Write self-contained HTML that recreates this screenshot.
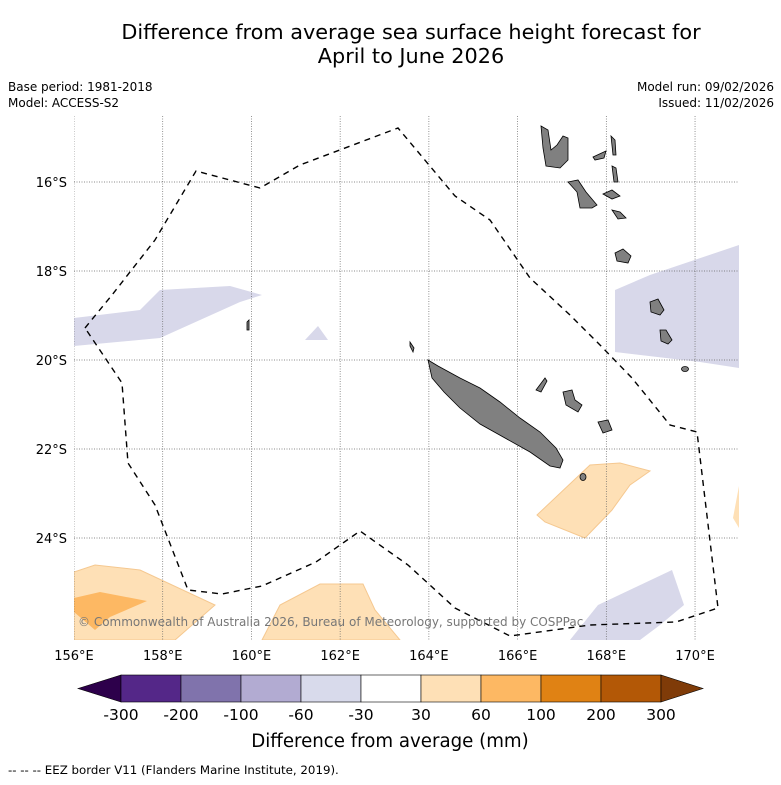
<!DOCTYPE html>
<html><head><meta charset="utf-8"><style>
body{margin:0;background:#fff;font-family:"DejaVu Sans","Liberation Sans",sans-serif;}
svg text{font-family:"DejaVu Sans","Liberation Sans",sans-serif;}
</style></head><body>
<svg id="chart" width="781" height="781" viewBox="0 0 781 781">
<text x="411" y="39" font-size="20.8" text-anchor="middle">Difference from average sea surface height forecast for</text>
<text x="411" y="63" font-size="20.8" text-anchor="middle">April to June 2026</text>
<text x="8" y="91" font-size="12">Base period: 1981-2018</text>
<text x="8" y="107" font-size="12">Model: ACCESS-S2</text>
<text x="774" y="91" font-size="12" text-anchor="end">Model run: 09/02/2026</text>
<text x="774" y="107" font-size="12" text-anchor="end">Issued: 11/02/2026</text>
<defs><clipPath id="mapclip"><rect x="74" y="116" width="665" height="524"/></clipPath></defs>
<g clip-path="url(#mapclip)">
<g fill="#d8d8ea">
<polygon points="74,318 140,310 160,290 230,286 262,295 240,302 160,338 74,346"/>
<polygon points="305,340 318,326 328,340"/>
<polygon points="615,290 650,275 739,245 739,368 700,362 615,352"/>
<polygon points="570,640 598,605 672,570 684,605 660,625 640,640"/>
</g>
<g>
<polygon fill="#fee0b6" stroke="#f5c890" stroke-width="1" points="537,515 590,465 620,463 650,471 630,485 612,510 585,538 545,522"/>
<polygon fill="#fee0b6" stroke="#f5c890" stroke-width="1" points="74,572 95,565 140,570 215,605 175,640 74,640"/>
<polygon fill="#fdb863" points="74,598 100,592 147,601 110,617 95,630 74,612"/>
<polygon fill="#fee0b6" stroke="#f5c890" stroke-width="1" points="262,640 280,605 320,584 363,584 375,610 400,640"/>
<polygon fill="#fee0b6" points="739,486 733,518 739,528"/>
</g>
<g id="grid" stroke="#666" stroke-width="0.7" stroke-dasharray="1,1.5"></g>
<g fill="#808080" stroke="#000" stroke-width="0.8">
<polygon points="428,360 438,366 460,378 480,388 500,402 520,418 540,432 556,448 563,460 560,468 550,466 530,452 505,438 480,424 460,408 444,392 432,378"/>
<polygon points="541,126 548,130 551,150 557,145 563,136 568,138 568,160 560,168 546,166 543,148"/>
<polygon points="568,182 578,180 586,192 597,205 592,208 580,208 577,192"/>
<polygon points="593,157 606,151 604,158 595,160"/>
<polygon points="611,136 615,140 616,155 613,155"/>
<polygon points="612,166 616,168 618,182 614,182"/>
<polygon points="603,194 612,190 620,196 612,199"/>
<polygon points="612,210 620,212 626,218 618,219"/>
<polygon points="615,253 623,249 631,256 628,263 617,261"/>
<polygon points="650,302 658,299 664,310 660,315 651,312"/>
<polygon points="660,330 666,330 672,340 668,344 661,341"/>
<ellipse cx="685" cy="369" rx="3.5" ry="2.5"/>
<polygon points="563,392 572,390 575,400 582,405 578,412 566,405"/>
<polygon points="598,422 608,420 612,430 603,433"/>
<polygon points="536,390 545,378 547,381 541,392"/>
<ellipse cx="583" cy="477" rx="3" ry="3.5"/>
<polygon points="247,322 249,320 249,330 247,330"/>
<polygon points="410,342 414,348 413,352 410,346"/>
</g>
<polyline fill="none" stroke="#000" stroke-width="1.4" stroke-dasharray="6,5" points="85,328 112,295 155,240 196,171 260,188 300,165 398,128 455,196 490,220 530,278 570,315 600,345 632,378 670,425 697,432 718,608 676,622 590,625 510,636 455,608 408,565 360,531 316,562 262,586 222,594 188,590 155,505 128,463 122,383 85,328"/>
<text x="78" y="626" font-size="12" fill="#777">© Commonwealth of Australia 2026, Bureau of Meteorology, supported by COSPPac</text>
</g>
<g id="axes"></g>
<g id="colorbar"></g>
<text x="390" y="747" font-size="18.2" text-anchor="middle">Difference from average (mm)</text>
<text x="8" y="774" font-size="11.8">-- -- -- EEZ border V11 (Flanders Marine Institute, 2019).</text>
</svg>
<script>
const lonTicks=[156,158,160,162,164,166,168,170];
const latTicks=[16,18,20,22,24];
const cbBounds=[-300,-200,-100,-60,-30,30,60,100,200,300];
const cbColors=['#542788','#8073ac','#b2abd2','#d8daeb','#ffffff','#fee0b6','#fdb863','#e08214','#b35806'];
const cbUnder='#2d004b', cbOver='#7f3b08';
const NS='http://www.w3.org/2000/svg';
const xLon=l=>74+(l-156)*44.36;
const yLat=l=>182+(l-16)*44.5;
function mk(tag,attrs,parent){const e=document.createElementNS(NS,tag);for(const k in attrs)e.setAttribute(k,attrs[k]);parent.appendChild(e);return e;}
const grid=document.getElementById('grid'),axes=document.getElementById('axes'),cb=document.getElementById('colorbar');
lonTicks.forEach(l=>{
 const x=xLon(l);
 const g=mk('line',{x1:x,x2:x,y1:116,y2:640},grid);
 
 
 const t=mk('text',{x:x,y:660,'font-size':13,'text-anchor':'middle'},axes);
 t.textContent=l+'°E';
 
 
});
latTicks.forEach(l=>{
 const y=yLat(l);
 const g=mk('line',{x1:74,x2:739,y1:y,y2:y},grid);
 
 
 const t=mk('text',{x:67,y:y+5,'font-size':13,'text-anchor':'end'},axes);
 t.textContent=l+'°S';
 
 
});
const cx=i=>121+i*60, cy0=675, cy1=702;
const u=mk('polygon',{points:`78,${(cy0+cy1)/2} ${cx(0)},${cy0} ${cx(0)},${cy1}`,fill:cbUnder,stroke:'#000','stroke-width':0.6},cb);


cbColors.forEach((c,i)=>{
 const r=mk('rect',{x:cx(i),y:cy0,width:60,height:cy1-cy0,fill:c,stroke:'#000','stroke-width':0.6},cb);
 
 
});
const n=cbColors.length;
const o=mk('polygon',{points:`${cx(n)},${cy0} 703,${(cy0+cy1)/2} ${cx(n)},${cy1}`,fill:cbOver,stroke:'#000','stroke-width':0.6},cb);


cbBounds.forEach((b,i)=>{
 const t=mk('text',{x:cx(i),y:720,'font-size':15.5,'text-anchor':'middle'},cb);
 t.textContent=b;
 
 
});
</script>
</body></html>
